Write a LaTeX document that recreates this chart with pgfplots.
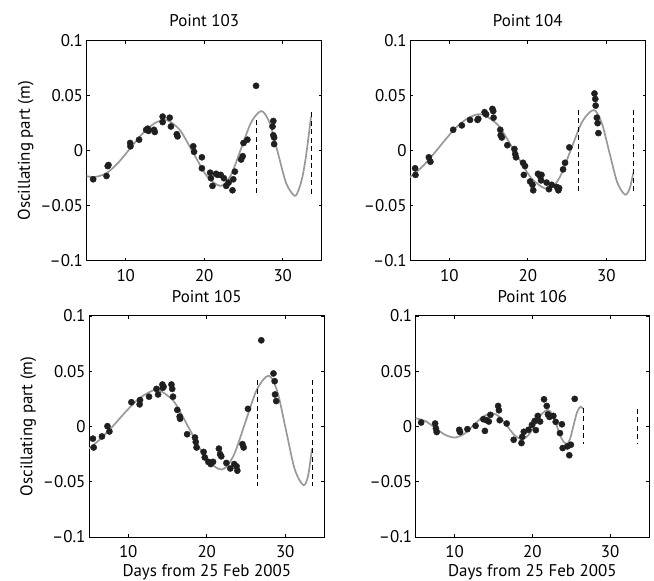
\documentclass[border=0pt]{standalone}
\usepackage{fontspec}
\setmainfont{PT Sans}
\usepackage{pgfplots}
\pgfplotsset{compat=1.18}
\definecolor{curvegray}{gray}{0.6}
\definecolor{dotblack}{gray}{0.12}
\pgfplotsset{
  panel/.style={
    scale only axis, width=235.5bp, height=220bp,
    xmin=5, xmax=35, ymin=-0.1, ymax=0.1,
    xtick={10,20,30}, xticklabels={10,20,30},
    ytick={-0.1,-0.05,0,0.05,0.1},
    yticklabels={–0.1,–0.05,0,0.05,0.1},
    tick align=inside, xtick pos=both, ytick pos=both,
    xticklabel pos=bottom, yticklabel pos=left,
    major tick length=3bp,
    axis line style={line width=1bp, black},
    every tick/.style={black, line width=0.6bp},
    tick label style={font=\fontsize{17}{20}\selectfont},
    xticklabel style={yshift=-5bp},
    label style={font=\fontsize{17}{20}\selectfont},
    title style={font=\fontsize{17}{20}\selectfont, yshift=4bp},
  },
  dots/.style={only marks, mark=*, mark size=3.1bp, color=dotblack, mark options={draw=dotblack, fill=dotblack}},
  fit/.style={curvegray, line width=1.7bp, smooth, no marks},
  vdash/.style={black, line width=0.6bp, dash pattern=on 5bp off 3.5bp, no marks},
}
\begin{document}
\begin{tikzpicture}
\path[use as bounding box] (0,0) rectangle (654bp,581bp);
% ---------------- Point 103
\begin{axis}[panel, at={(86.5bp,320.3bp)}, anchor=south west,
  title={Point 103}, ylabel={Oscillating part (m)}]
\addplot[dots] coordinates {
(5.85,-0.026) (7.55,-0.023) (7.7,-0.014) (7.8,-0.013)
(10.56,0.007) (10.6,0.004) (11.7,0.010)
(12.6,0.019) (12.8,0.020) (12.9,0.018) (13.6,0.019) (13.7,0.017)
(14.7,0.031) (14.7,0.026) (15.6,0.030) (15.75,0.022)
(16.5,0.015) (16.6,0.013) (18.6,0.004) (18.7,-0.001)
(19.7,-0.006) (19.7,-0.016) (20.75,-0.020) (20.85,-0.025) (21.05,-0.032)
(21.5,-0.021) (21.7,-0.022) (22.1,-0.022) (22.5,-0.025) (22.8,-0.032) (23.6,-0.036)
(23.1,-0.029) (23.7,-0.026) (23.9,-0.019)
(24.7,-0.008) (24.9,-0.005) (25.0,0.007) (25.5,0.010)
(26.6,0.059)
(28.8,0.027) (28.7,0.022) (28.8,0.014) (28.9,0.012) (28.9,0.006)
};
\addplot[fit] coordinates {
(5,-0.023) (6.0,-0.024) (7.52,-0.0205) (9.03,-0.011) (10.55,0.002) (12.07,0.015) (13.58,0.0245) (15.1,0.028)
(16.85,0.0192) (18.6,-0.002) (20.35,-0.0232) (22.1,-0.032)
(23.4,-0.0221) (24.7,0.002) (26.0,0.0261) (27.3,0.036)
(28.35,0.0248) (29.4,-0.0025) (30.45,-0.0298) (31.5,-0.041)
(32.0,-0.036) (32.5,-0.024) (33.0,-0.003) (33.6,0.031)
};
\addplot[vdash] coordinates {(26.6,0.028) (26.6,-0.041)};
\addplot[vdash] coordinates {(33.6,0.035) (33.6,-0.041)};
\end{axis}
% ---------------- Point 104
\begin{axis}[panel, at={(410bp,320.3bp)}, anchor=south west,
  title={Point 104}]
\addplot[dots] coordinates {
(5.65,-0.016) (5.7,-0.022) (7.4,-0.006) (7.6,-0.010)
(10.5,0.019) (11.6,0.023) (12.65,0.028) (13.6,0.028) (13.7,0.029)
(14.5,0.035) (14.7,0.033) (15.5,0.038) (15.6,0.036) (15.65,0.030)
(16.5,0.019) (16.55,0.014) (16.7,0.012) (17.4,0.005)
(18.3,0.0015) (18.4,-0.003) (18.5,-0.006)
(19.4,-0.011) (19.65,-0.014) (19.5,-0.022)
(20.3,-0.028) (20.6,-0.031) (20.7,-0.036)
(21.3,-0.021) (21.55,-0.023) (21.75,-0.022) (21.7,-0.027)
(22.4,-0.029) (22.7,-0.035) (23.05,-0.031) (23.7,-0.033) (23.9,-0.036) (24.0,-0.034)
(24.5,-0.017) (24.75,-0.011) (25.3,0.003)
(28.5,0.052) (28.6,0.047) (28.65,0.041) (28.8,0.030) (28.9,0.025) (29.0,0.016)
};
\addplot[fit] coordinates {
(5,-0.024) (6.5,-0.015) (8,-0.003) (9.5,0.010) (11,0.022) (12.5,0.030) (14.1,0.033)
(16.225,0.0231) (18.35,-0.001) (20.475,-0.0251) (22.6,-0.035)
(24.05,-0.0245) (25.5,0.001) (26.95,0.0265) (28.4,0.037)
(29.4,0.0258) (30.4,-0.0015) (31.4,-0.0288) (32.4,-0.040)
(33.0,-0.034) (33.45,-0.020)
};
\addplot[vdash] coordinates {(26.45,0.037) (26.45,-0.040)};
\addplot[vdash] coordinates {(33.45,0.037) (33.45,-0.040)};
\end{axis}
% ---------------- Point 105
\begin{axis}[panel, at={(89bp,44bp)}, anchor=south west, height=221bp,
  title={Point 105}, ylabel={Oscillating part (m)}, xlabel={Days from 25 Feb 2005}]
\addplot[dots] coordinates {
(5.5,-0.011) (5.6,-0.019) (6.65,-0.009) (7.35,0.0003) (7.6,-0.0045)
(10.4,0.022) (11.45,0.020) (11.5,0.024) (12.65,0.027)
(13.6,0.034) (13.8,0.029) (14.35,0.038) (14.4,0.035) (14.5,0.036)
(15.5,0.038) (15.6,0.034) (15.7,0.027)
(16.25,0.015) (16.55,0.009) (16.6,0.007) (17.5,-0.007)
(18.5,-0.010) (18.6,-0.014) (18.7,-0.019)
(19.6,-0.023) (19.75,-0.028) (20.2,-0.032) (20.5,-0.034) (20.8,-0.032)
(21.55,-0.020) (21.7,-0.025) (21.85,-0.027)
(22.5,-0.033) (23.0,-0.038) (23.5,-0.034) (23.8,-0.036) (23.9,-0.040)
(24.55,-0.016) (24.7,-0.019) (25.25,0.016)
(26.95,0.078)
(28.5,0.048) (28.65,0.041) (28.7,0.029) (28.85,0.023)
};
\addplot[fit] coordinates {
(5,-0.020) (6.5,-0.011) (8,0.000) (9.5,0.012) (11,0.023) (12.4,0.030) (13.8,0.033)
(15.825,0.0225) (17.85,-0.003) (19.875,-0.0285) (21.9,-0.039)
(23.4,-0.0266) (24.9,0.0035) (26.4,0.0336) (27.9,0.046)
(29.0,0.0315) (30.1,-0.0035) (31.2,-0.0385) (32.3,-0.053)
(32.9,-0.045) (33.4,-0.020)
};
\addplot[vdash] coordinates {(26.45,0.042) (26.45,-0.054)};
\addplot[vdash] coordinates {(33.4,0.042) (33.4,-0.054)};
\end{axis}
% ---------------- Point 106
\begin{axis}[panel, at={(415.7bp,44bp)}, anchor=south west, height=221bp, width=233.3bp,
  title={Point 106}, xlabel={Days from 25 Feb 2005}]
\addplot[dots] coordinates {
(5.7,0.0036) (7.5,0.0027) (7.6,-0.0018) (7.7,-0.005)
(10.6,-0.003) (10.7,-0.005) (11.65,-0.0024) (12.7,0.0006)
(13.7,0.0066) (13.9,-0.004) (14.1,0.0057) (14.4,0.0045) (14.6,0.0105)
(15.6,0.0186) (15.7,0.0147) (15.8,0.0057) (16.7,0.0027)
(17.6,-0.012) (18.6,-0.015) (18.7,-0.0093) (18.9,-0.0048)
(19.5,-0.003) (19.95,0.0015) (20.3,0.005) (20.45,-0.0033) (20.7,0.0096) (21.0,0.0045)
(21.5,0.0246) (21.85,0.0186) (22.0,0.011) (22.2,0.0087) (22.7,0.0096) (23.0,0.0042)
(23.55,-0.006) (23.8,0.002) (23.9,-0.0195) (24.5,-0.018) (24.75,-0.026) (24.95,-0.0165)
(25.45,0.025)
};
\addplot[fit] coordinates {
(5,0.0075) (6.25,0.0049) (7.5,-0.00125) (8.75,-0.0074) (10,-0.010)
(11.2125,-0.0068) (12.425,0.001) (13.6375,0.0088) (14.85,0.012)
(15.81,0.0086) (16.775,0.00025) (17.74,-0.0081) (18.7,-0.0115)
(19.525,-0.0076) (20.35,0.00175) (21.175,0.0111) (22.0,0.015)
(22.6,0.0105) (23.2,-0.0005) (23.8,-0.0115) (24.4,-0.016)
(24.85,-0.011) (25.3,0.001) (25.75,0.013) (26.2,0.018) (26.5,0.016)
};
\addplot[vdash] coordinates {(26.55,0.017) (26.55,-0.016)};
\addplot[vdash] coordinates {(33.55,0.016) (33.55,-0.016)};
\end{axis}
\end{tikzpicture}
\end{document}
